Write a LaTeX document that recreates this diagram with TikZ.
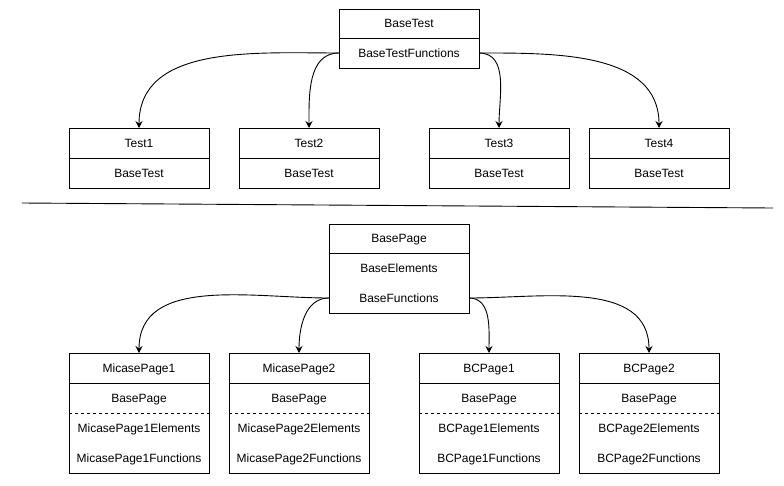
\documentclass[tikz,border=0pt]{standalone}
\usepackage{fontspec}
\setmainfont{Liberation Sans}
\usetikzlibrary{arrows.meta}
\begin{document}
\begin{tikzpicture}[x=1pt,y=-1pt,
  frame/.style={draw, line width=0.8pt, minimum width=140pt, inner sep=0pt, outer sep=0pt, fill=white},
  txt/.style={font=\fontsize{12}{14}\selectfont, text height=9.8pt, text depth=1.6pt},
  lbl/.style={txt, inner sep=0pt},
  link/.style={-{Stealth[length=7pt,width=7pt,inset=2.5pt]}, line width=0.9pt},
  sep/.style={line width=0.8pt, dash pattern=on 3pt off 3pt}]
\useasboundingbox (0,0) rectangle (784,485);

% test class hierarchy
\node[frame, txt, minimum height=29pt, anchor=north] (bt) at (409,9) {BaseTest};
\node[frame, txt, minimum height=30pt, anchor=north] (btf) at (bt.south) {BaseTestFunctions};

\foreach \n/\x/\t in {t1/139/Test1, t2/309/Test2, t3/499/Test3, t4/659/Test4} {
  \node[frame, txt, minimum height=30pt, anchor=north] (\n) at (\x,128) {\t};
  \node[frame, txt, minimum height=30pt, anchor=north] (\n-b) at (\n.south) {BaseTest};
}

\draw[link] (btf.west) to[out=180, in=90] (t1.north);
\draw[link] (btf.west) to[out=180, in=90] (t2.north);
\draw[link] (btf.east) to[out=0, in=90] (t3.north);
\draw[link] (btf.east) to[out=0, in=90] (t4.north);

% divider between the two hierarchies
\coordinate (divL) at (22,203);
\coordinate (divR) at (773,208);
\draw[line width=0.9pt] (divL) -- (divR);

% page class hierarchy
\node[frame, minimum height=89pt, anchor=north] (bp) at (399,224) {};
\node[frame, txt, minimum height=29pt, anchor=north] (bph) at (bp.north) {BasePage};
\node[lbl] (bpe) at (399,268) {BaseElements};
\node[lbl] (bpf) at (399,298) {BaseFunctions};

\foreach \n/\x/\t/\e/\f in {
  mp1/139/MicasePage1/MicasePage1Elements/MicasePage1Functions,
  mp2/299/MicasePage2/MicasePage2Elements/MicasePage2Functions,
  bc1/489/BCPage1/BCPage1Elements/BCPage1Functions,
  bc2/649/BCPage2/BCPage2Elements/BCPage2Functions} {
  \node[frame, minimum height=120pt, anchor=north] (\n) at (\x,353) {};
  \node[frame, txt, minimum height=30pt, anchor=north] (\n-h) at (\n.north) {\t};
  \node[lbl] (\n-b) at (\x,398) {BasePage};
  \draw[sep] (\n.west |- 0,413) -- (\n.east |- 0,413);
  \node[lbl] (\n-e) at (\x,428) {\e};
  \node[lbl] (\n-f) at (\x,458) {\f};
}

\draw[link] (bp.west |- bpf) to[out=180, in=90] (mp1.north);
\draw[link] (bp.west |- bpf) to[out=180, in=90] (mp2.north);
\draw[link] (bp.east |- bpf) to[out=0, in=90] (bc1.north);
\draw[link] (bp.east |- bpf) to[out=0, in=90] (bc2.north);
\end{tikzpicture}
\end{document}
